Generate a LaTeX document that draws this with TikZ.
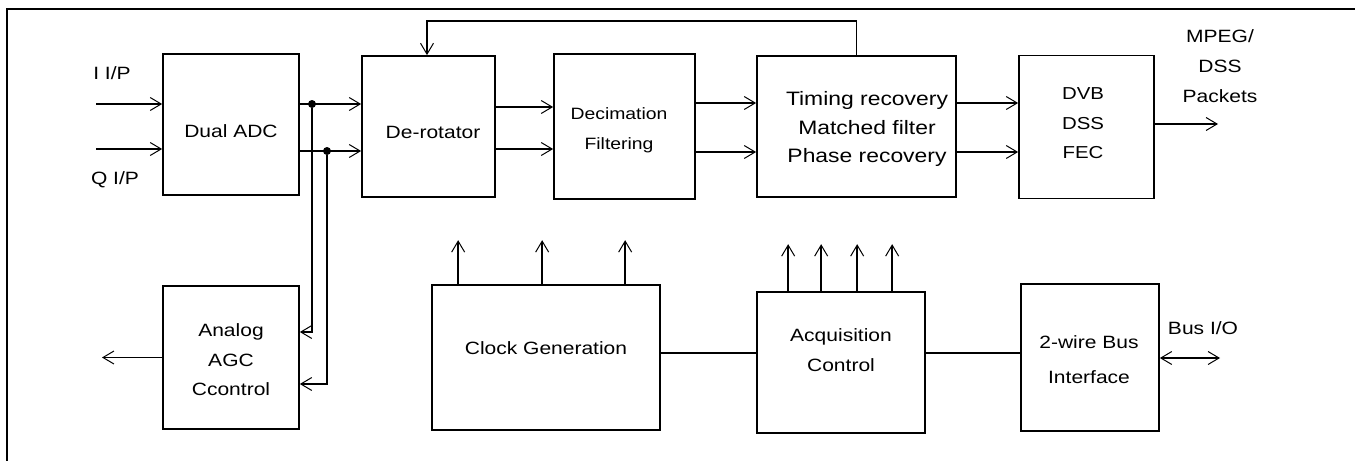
\documentclass[tikz,border=0pt]{standalone}
\usepackage{fontspec}
\setmainfont{Liberation Sans}[FakeStretch=1.18]
\usetikzlibrary{arrows.meta,calc}
\begin{document}
\begin{tikzpicture}[x=1pt,y=-1pt,
  blk/.style={draw,line width=1.7pt,inner sep=0pt,minimum width=#1},
  txt/.style={inner sep=0pt,align=center,font=\fontsize{17.8}{29.5}\selectfont},
  conn/.style={line width=1.7pt},
  arr/.style={conn,-{Straight Barb[length=11pt,width=13pt,line width=1pt]}},
  arrs/.style={conn,{Straight Barb[length=11pt,width=13pt,line width=1pt]}-{Straight Barb[length=11pt,width=13pt,line width=1pt]}},
  dotn/.style={circle,fill,inner sep=0pt,minimum size=8pt},
  frame/.style={line width=1.8pt}]
\useasboundingbox (0,0) rectangle (1355,461);
\draw[frame] (1355,9) -- (7,9) -- (7,461);
% boxes
\node[blk=136pt,minimum height=141pt] (adc) at (231,124.5) {};
\node[blk=133pt,minimum height=141pt] (derot) at (428.5,126.5) {};
\node[blk=141pt,minimum height=145pt] (decim) at (624.5,126.5) {};
\node[blk=199pt,minimum height=141pt] (timing) at (856.5,126.5) {};
\node[blk=135pt,minimum height=143pt] (fec) at (1086.5,127) {};
\node[blk=136pt,minimum height=143pt] (agc) at (231,357.5) {};
\node[blk=228pt,minimum height=145pt] (clock) at (546,357.5) {};
\node[blk=168pt,minimum height=141pt] (acq) at (841,362.5) {};
\node[blk=138pt,minimum height=147pt] (bus) at (1090,357.5) {};
% texts
\node[txt] (ti) at (112,73) {I I/P};
\node[txt] (tq) at (115,180) {Q I/P};
\node[txt] (tadc) at (231,131) {Dual ADC};
\node[txt] (tderot) at (433,132) {De-rotator};
\node[txt,font=\fontsize{16.4}{30}\selectfont] (tdecim) at (619,130) {Decimation\\Filtering};
\node[txt,font=\fontsize{19.4}{28.5}\selectfont] (ttiming) at (867,129) {Timing recovery\\Matched filter\\Phase recovery};
\node[txt,font=\fontsize{17.3}{29.5}\selectfont] (tfec) at (1083,123.5) {DVB\\DSS\\FEC};
\node[txt,font=\fontsize{17.8}{30}\selectfont] (tmpeg) at (1220,66) {MPEG/\\DSS\\Packets};
\node[txt] (tagc) at (231,360) {Analog\\AGC\\Ccontrol};
\node[txt] (tclock) at (546,348) {Clock Generation};
\node[txt] (tacq) at (841,350) {Acquisition\\Control};
\node[txt,font=\fontsize{17.8}{35}\selectfont] (tbus) at (1089,360) {2-wire Bus\\Interface};
\node[txt] (tbusio) at (1203,328) {Bus I/O};
% junctions and free ends
\node[dotn] (j1) at (312,104) {};
\node[dotn] (j2) at (327,151) {};
\coordinate (iin) at (96,104);
\coordinate (qin) at (96,149);
\coordinate (agcout) at (102,357.5);
\coordinate (fecout) at (1218,124);
\coordinate (busio) at (1220,358);
% connectors
\draw[arr] (iin) -- (adc.west |- iin);
\draw[arr] (qin) -- (adc.west |- qin);
\draw[arr] (adc.east |- j1) -- (derot.west |- j1);
\draw[arr] (adc.east |- j2) -- (derot.west |- j2);
\draw[arr] (j1) |- ($(agc.east)+(0,-25.5)$);
\draw[arr] (j2) |- ($(agc.east)+(0,26.5)$);
\draw[arr] (agc.west) -- (agcout);
\draw[arr] ($(derot.east)+(0,-19.5)$) -- ($(decim.west)+(0,-19.5)$);
\draw[arr] ($(derot.east)+(0,22.5)$) -- ($(decim.west)+(0,22.5)$);
\draw[arr] ($(decim.east)+(0,-23.5)$) -- ($(timing.west)+(0,-23.5)$);
\draw[arr] ($(decim.east)+(0,25.5)$) -- ($(timing.west)+(0,25.5)$);
\draw[arr] ($(timing.east)+(0,-23.5)$) -- ($(fec.west)+(0,-24)$);
\draw[arr] ($(timing.east)+(0,25.5)$) -- ($(fec.west)+(0,25)$);
\draw[arr] (fec.east |- fecout) -- (fecout);
\draw[arr] (timing.north) -- ++(0,-34) -| ($(derot.north)+(-1.5,0)$);
\draw[arr] ($(clock.north west)+(27,0)$) -- ++(0,-44);
\draw[arr] ($(clock.north west)+(111,0)$) -- ++(0,-44);
\draw[arr] ($(clock.north west)+(194,0)$) -- ++(0,-44);
\draw[arr] ($(acq.north west)+(32,0)$) -- ++(0,-47);
\draw[arr] ($(acq.north west)+(65,0)$) -- ++(0,-47);
\draw[arr] ($(acq.north west)+(101,0)$) -- ++(0,-47);
\draw[arr] ($(acq.north west)+(136,0)$) -- ++(0,-47);
\draw[conn] ($(clock.east)+(0,-4.5)$) -- ($(acq.west)+(0,-9.5)$);
\draw[conn] ($(acq.east)+(0,-9.5)$) -- ($(bus.west)+(0,-4.5)$);
\draw[arrs] (bus.east |- busio) -- (busio);
\end{tikzpicture}
\end{document}
